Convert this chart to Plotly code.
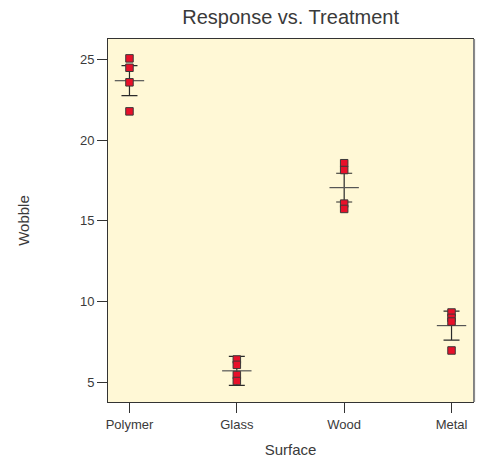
import plotly.graph_objects as go

categories = ["Polymer", "Glass", "Wood", "Metal"]
polymer = [25.06, 24.48, 23.58, 21.78]
glass = [6.42, 6.09, 5.46, 5.09]
wood = [18.57, 18.15, 16.07, 15.74]
metal = [9.33, 9.0, 8.77, 6.98]
group_means = [23.68, 5.72, 17.06, 8.52]
group_err = [0.93, 0.9, 0.89, 0.9]

y_ticks = [5, 10, 15, 20, 25]

font_fam = "Liberation Sans, Arial, sans-serif"
txt = "#3a3a3a"

fig = go.Figure()

# mean and error bars
fig.add_trace(go.Scatter(
    x=categories, y=group_means, mode="markers",
    marker=dict(symbol="line-ew", size=21, line=dict(width=1.2, color="#555555"), color="#555555"),
    error_y=dict(type="data", array=group_err, visible=True, color="#2a2a2a", thickness=1.2, width=8),
    showlegend=False, hoverinfo="skip",
))

all_x = []
all_y = []
for cat, vals in zip(categories, [polymer, glass, wood, metal]):
    all_x += [cat] * len(vals)
    all_y += vals

fig.add_trace(go.Scatter(
    x=all_x, y=all_y, mode="markers",
    marker=dict(symbol="square", size=7.5, color="#E8102A", line=dict(width=1, color="#3a3a3a")),
    showlegend=False,
))

fig.update_layout(
    width=482, height=458,
    margin=dict(l=108, r=9, t=39, b=56),
    paper_bgcolor="white",
    plot_bgcolor="#FFF8D6",
    font=dict(family=font_fam, color=txt, size=13),
    title=dict(text="Response vs. Treatment", x=0.603, xanchor="center", y=0.962, yanchor="middle",
               font=dict(size=20, color=txt)),
    xaxis=dict(
        type="category", categoryorder="array", categoryarray=categories,
        range=[-0.2, 3.2], showgrid=False, zeroline=False, automargin=False,
        showline=True, linecolor="#333333", linewidth=1, mirror=True,
        ticks="outside", ticklen=10, tickcolor="#333333", tickwidth=1,
        tickfont=dict(size=13, color=txt),
        title=dict(text="Surface", font=dict(size=15, color=txt), standoff=18),
    ),
    yaxis=dict(
        range=[3.79, 26.26], tickvals=y_ticks, showgrid=False, zeroline=False, automargin=False,
        showline=True, linecolor="#333333", linewidth=1, mirror=True,
        ticks="outside", ticklen=10, tickcolor="#333333", tickwidth=1,
        tickfont=dict(size=13, color=txt),
        title=dict(text="Wobble", font=dict(size=15, color=txt), standoff=46),
    ),
    shapes=[dict(type="line", xref="paper", yref="paper", x0=1.003, x1=1.003, y0=0, y1=1,
                 line=dict(color="#8a8a8a", width=2))],
)

fig.write_html("out.html")
